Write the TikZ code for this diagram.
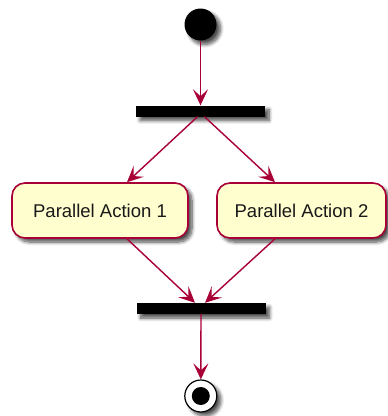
\documentclass[tikz,border=0pt]{standalone}
\usepackage{fontspec}
\setmainfont{Liberation Sans}
\usetikzlibrary{arrows.meta,shadows.blur}
\definecolor{puml}{HTML}{A80036}
\definecolor{pfill}{HTML}{FEFECE}
\begin{document}
\begin{tikzpicture}[x=1pt,y=-1pt,
 shad/.style={blur shadow={shadow xshift=4pt,shadow yshift=-4pt,shadow blur radius=3.5pt,shadow blur steps=8,shadow opacity=70}},
 bar/.style={fill=black,draw=none,minimum width=129pt,minimum height=11pt,inner sep=0pt,shad},
 act/.style={rounded corners=13pt,draw=puml,line width=1.6pt,fill=pfill,minimum height=55pt,inner sep=0pt,font=\fontsize{18.5}{20}\selectfont,text=black!90,shad},
 flow/.style={draw=puml,line width=1.4pt,-{Stealth[length=16pt,width=15pt,inset=7pt]}}]
\useasboundingbox (0,0) rectangle (388,416);
\node[circle,fill=black,minimum size=32pt,inner sep=0pt,shad] (start) at (200.5,24.5) {};
\node[bar] (fork) at (200.5,111) {};
\node[act,minimum width=176pt] (a1) at (100,210.5) {Parallel Action 1};
\node[act,minimum width=169pt] (a2) at (301.5,210.5) {Parallel Action 2};
\node[bar] (join) at (201,308.5) {};
\node[circle,draw=black,line width=1.2pt,fill=white,minimum size=32pt,inner sep=0pt,shad] (end) at (200.8,396) {};
\node[circle,fill=black,minimum size=18pt,inner sep=0pt] (endin) at (end.center) {};
\draw[flow] (start.south) -- (fork.north);
\draw[flow] ([xshift=-3pt]fork.south) -- ([xshift=27pt]a1.north);
\draw[flow] ([xshift=4pt]fork.south) -- ([xshift=-26.5pt]a2.north);
\draw[flow] ([xshift=27pt]a1.south) -- ([xshift=-6pt]join.north);
\draw[flow] ([xshift=-26.5pt]a2.south) -- ([xshift=4pt]join.north);
\draw[flow] (join.south) -- (end.north);
\end{tikzpicture}
\end{document}
